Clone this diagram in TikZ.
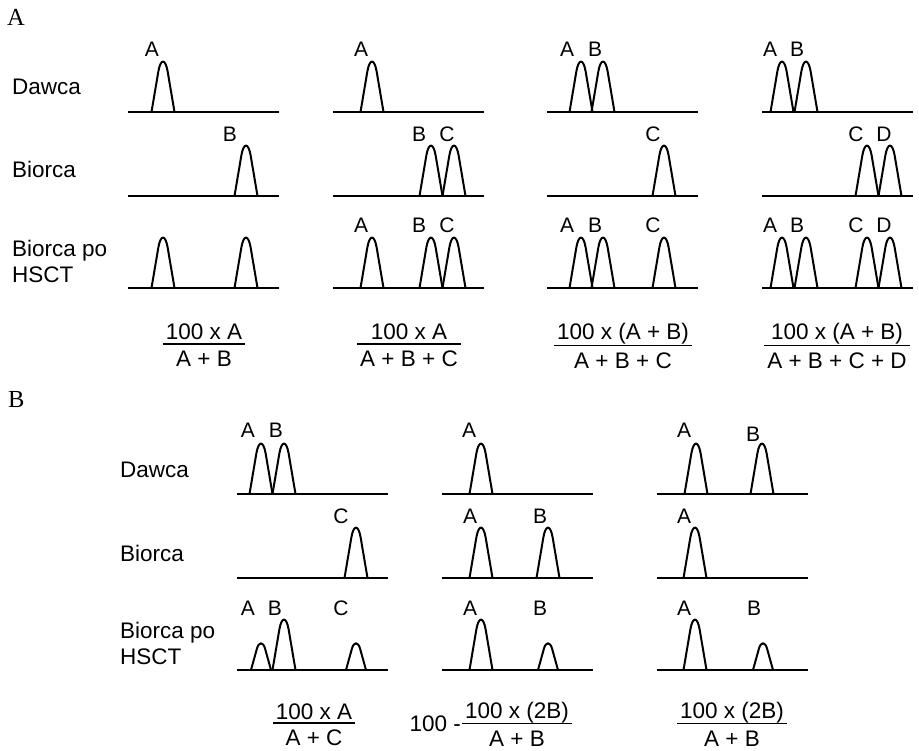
\documentclass[tikz,border=0pt]{standalone}
\usepackage{fontspec}
\setmainfont{Liberation Sans}
\newfontfamily\partfont{Liberation Serif}

% fraction with a thick bar, baseline at the numerator
\newcommand{\ratio}[2]{{\renewcommand{\arraystretch}{0}\setlength{\arrayrulewidth}{1.8pt}%
  \begin{tabular}[t]{@{\hspace{3pt}}c@{\hspace{3pt}}}#1\rule[-3pt]{0pt}{0pt}\\\hline\rule{0pt}{22pt}#2\end{tabular}}}

\tikzset{
  peakline/.style={line width=2pt, line join=round},
  pics/peak/.style={code={
    \draw[peakline] (-11.5,0) -- (-4.6,-40.8) .. controls (-2.3,-53.6) and (2.3,-53.6) .. (4.6,-40.8) -- (11.5,0);}},
  pics/lowpeak/.style={code={
    \draw[peakline] (-10,0) -- (-4,-21.6) .. controls (-2,-28.4) and (2,-28.4) .. (4,-21.6) -- (10,0);}}
}

\begin{document}
\begin{tikzpicture}[x=1pt,y=-1pt,
  trace/.style={line width=2.3pt},
  letter/.style={font=\fontsize{21}{24}\selectfont, inner sep=0pt, anchor=base},
  rowlabel/.style={font=\fontsize{22.5}{26}\selectfont, inner sep=0pt, anchor=base west, align=left},
  formula/.style={font=\fontsize{22.5}{26}\selectfont, inner sep=0pt, anchor=base},
  part/.style={font=\partfont\fontsize{24.5}{28}\selectfont, inner sep=0pt, anchor=base west}]
\useasboundingbox (0,0) rectangle (919,751);

%% part A
\node[part] (partA) at (7,26) {A};
\node[rowlabel] (dawcaA) at (12,95) {Dawca};
\node[rowlabel] (biorcaA) at (12,178) {Biorca};
\node[rowlabel] (hsctA) at (12,283) {Biorca po\\HSCT};

\foreach \x in {128,333,547,762}
  \foreach \y in {112,196,288}
    \draw[trace] (\x,\y) -- ++(151,0);

% donor, recipient, recipient after HSCT
\foreach \x in {163,372,581,603,782,806} \pic at (\x,112) {peak};
\foreach \x in {246,431,454,664,867,890} \pic at (\x,196) {peak};
\foreach \x in {163,246,372,431,454,581,603,664,782,806,867,890} \pic at (\x,288) {peak};

\foreach \x/\t [count=\i] in {152/A,361/A,567/A,595/B,770/A,797/B}
  \node[letter] (dA\i) at (\x,57) {\t};
\foreach \x/\t [count=\i] in {230/B,419/B,447/C,653/C,856/C,884/D}
  \node[letter] (bA\i) at (\x,142) {\t};
\foreach \x/\t [count=\i] in {361/A,419/B,447/C,567/A,595/B,653/C,770/A,797/B,856/C,884/D}
  \node[letter] (hA\i) at (\x,233) {\t};

\node[formula] (fracA1) at (204,340) {\ratio{100 x A}{A + B}};
\node[formula] (fracA2) at (409,340) {\ratio{100 x A}{A + B + C}};
\node[formula] (fracA3) at (623,340) {\ratio{100 x (A + B)}{A + B + C}};
\node[formula] (fracA4) at (837,340) {\ratio{100 x (A + B)}{A + B + C + D}};

%% part B
\node[part] (partB) at (8,408) {B};
\node[rowlabel] (dawcaB) at (120,477) {Dawca};
\node[rowlabel] (biorcaB) at (120,561) {Biorca};
\node[rowlabel] (hsctB) at (120,664) {Biorca po\\HSCT};

\foreach \x in {237,442,657}
  \foreach \y in {494,578,670}
    \draw[trace] (\x,\y) -- ++(151,0);

\foreach \x in {261,284,481,696,762} \pic at (\x,494) {peak};
\foreach \x in {356,481,548,695} \pic at (\x,578) {peak};
\foreach \x in {284,481,695} \pic at (\x,670) {peak};
\foreach \x in {261,356,548,763} \pic at (\x,670) {lowpeak};

\foreach \x/\t [count=\i] in {248/A,276/B,469/A,684/A}
  \node[letter] (dB\i) at (\x,438) {\t};
\node[letter] (dB5) at (753,442) {B};
\foreach \x/\t [count=\i] in {341/C,470/A,540/B,684/A}
  \node[letter] (bB\i) at (\x,523) {\t};
\foreach \x/\t [count=\i] in {248/A,275/B,341/C,470/A,540/B,684/A,754/B}
  \node[letter] (hB\i) at (\x,615) {\t};

\node[formula] (fracB1) at (314,719) {\ratio{100 x A}{A + C}};
\node[formula] (fracB2) at (517,718) {\ratio{100 x (2B)}{A + B}};
\node[formula, anchor=base east] (restB2) at (461,731) {100 -};
\node[formula] (fracB3) at (732,718) {\ratio{100 x (2B)}{A + B}};
\end{tikzpicture}
\end{document}
